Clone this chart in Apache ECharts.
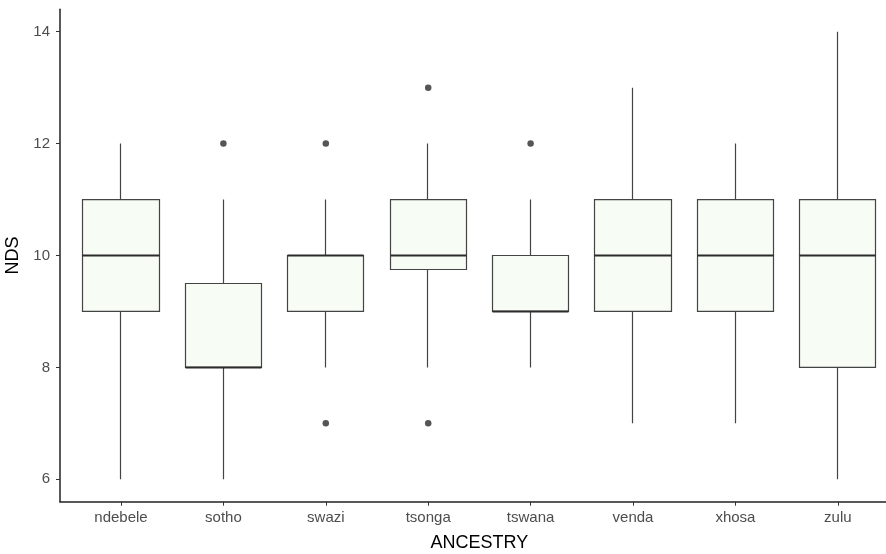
<!DOCTYPE html>
<html>
<head>
<meta charset="utf-8">
<script src="https://cdn.jsdelivr.net/npm/echarts@6/dist/echarts.min.js"></script>
<style>html,body{margin:0;padding:0;background:#fff}#c{width:886px;height:554px}</style>
</head>
<body>
<div id="c"></div>
<script>
var categories = ['ndebele','sotho','swazi','tsonga','tswana','venda','xhosa','zulu'];
// box statistics per category
var boxMin    = [6, 6, 8, 8,    8, 7, 7, 6];
var boxQ1     = [9, 8, 9, 9.75, 9, 9, 9, 8];
var boxMedian = [10, 8, 10, 10, 9, 10, 10, 10];
var boxQ3     = [11, 9.5, 10, 11, 10, 11, 11, 11];
var boxMax    = [12, 11, 11, 12, 11, 13, 12, 14];
// outliers: category and value
var outlierCat = ['sotho','swazi','swazi','tsonga','tsonga','tswana'];
var outlierVal = [12, 12, 7, 13, 7, 12];
var yTicks = [6, 8, 10, 12, 14];

// candlestick item: [open, close, lowest, highest] -> box Q1..Q3, whiskers min..max (no caps, like ggplot)
var boxData = categories.map(function(c, i){ return [boxQ1[i], boxQ3[i], boxMin[i], boxMax[i]]; });
var medData = categories.map(function(c, i){ return [boxMedian[i], boxMedian[i], boxMedian[i], boxMedian[i]]; });
var outData = outlierCat.map(function(c, i){ return [c, outlierVal[i]]; });

var FONT = 'Liberation Sans, Arial, sans-serif';
var chart = echarts.init(document.getElementById('c'), null, {renderer: 'canvas'});
var bw = 76.8;
chart.setOption({
  animation: false,
  backgroundColor: '#ffffff',
  grid: [
    {left: 69.8, top: 9.3, width: 819.2, height: 492.4, containLabel: false, outerBoundsMode: 'none'},
    {left: 60, top: 9.3, width: 840, height: 492.4, containLabel: false, outerBoundsMode: 'none'}
  ],
  xAxis: [
    {
      type: 'category', gridIndex: 0, data: categories, boundaryGap: true,
      axisLine: {show: false},
      axisTick: {show: true, alignWithLabel: true, length: 4, lineStyle: {color: '#333333', width: 1}},
      axisLabel: {color: '#4d4d4d', fontSize: 15, fontFamily: FONT, margin: 9},
      splitLine: {show: false},
      name: 'ANCESTRY', nameLocation: 'middle', nameGap: 32,
      nameTextStyle: {color: '#000000', fontSize: 18, fontFamily: FONT}
    },
    {
      type: 'category', gridIndex: 0, data: categories, show: false, boundaryGap: true
    },
    {
      type: 'value', gridIndex: 1, min: 0, max: 1,
      axisLine: {show: true, lineStyle: {color: '#222222', width: 1.5}},
      axisTick: {show: false}, axisLabel: {show: false}, splitLine: {show: false}
    }
  ],
  yAxis: [
    {
      type: 'value', gridIndex: 0, min: 5.6, max: 14.4, offset: 9.8,
      axisLine: {show: true, lineStyle: {color: '#222222', width: 1.5}},
      axisLabel: {
        color: '#4d4d4d', fontSize: 15, fontFamily: FONT, margin: 10,
        customValues: yTicks
      },
      axisTick: {show: true, length: 4, lineStyle: {color: '#333333'}, customValues: yTicks},
      splitLine: {show: false},
      name: 'NDS', nameLocation: 'middle', nameGap: 36, nameRotate: 90,
      nameTextStyle: {color: '#000000', fontSize: 18, fontFamily: FONT}
    },
    {
      type: 'value', gridIndex: 1, min: 0, max: 1, show: false
    }
  ],
  series: [
    {
      type: 'candlestick', xAxisIndex: 0, yAxisIndex: 0, data: boxData,
      barWidth: bw,
      itemStyle: {
        color: '#f7fcf5', color0: '#f7fcf5',
        borderColor: '#444444', borderColor0: '#444444', borderColorDoji: '#444444',
        borderWidth: 1.2
      },
      emphasis: {disabled: true}
    },
    {
      type: 'candlestick', xAxisIndex: 1, yAxisIndex: 0, data: medData,
      barWidth: bw,
      itemStyle: {
        color: 'transparent', color0: 'transparent',
        borderColor: '#2b2b2b', borderColor0: '#2b2b2b', borderColorDoji: '#2b2b2b',
        borderWidth: 2
      },
      emphasis: {disabled: true}, z: 3
    },
    {
      type: 'scatter', xAxisIndex: 0, yAxisIndex: 0, data: outData,
      symbol: 'circle', symbolSize: 6.5,
      itemStyle: {color: '#2b2b2b'}, z: 4,
      emphasis: {disabled: true}
    }
  ]
});
</script>
</body>
</html>
